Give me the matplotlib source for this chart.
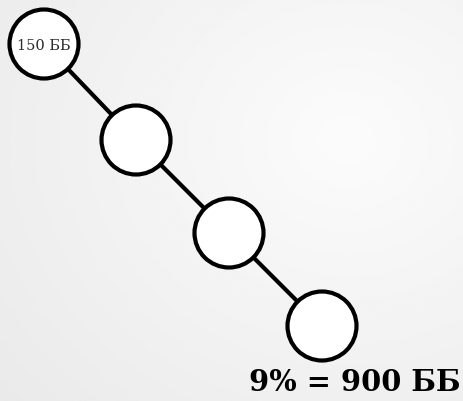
import matplotlib.pyplot as plt
import numpy as np
from matplotlib.patches import Circle

# node centres (pixel coords of the original picture) and labels
node_x = [44, 136, 229, 322]
node_y = [45, 141, 234, 327]
node_labels = ['150 ББ', '', '', '']
node_r = 34.5
result_label = '9% = 900 ББ'

fig = plt.figure(figsize=(4.64, 4.02), dpi=100)
ax = fig.add_axes([0, 0, 1, 1])
ax.set_xlim(0, 464)
ax.set_ylim(402, 0)
ax.axis('off')

# soft grey background gradient
gx, gy = np.meshgrid(np.linspace(0, 1, 200), np.linspace(0, 1, 200))
shade = 0.985 - 0.07 * np.sqrt(((gx - 0.75) ** 2) + ((gy - 0.35) ** 2))
ax.imshow(shade, cmap='gray', vmin=0, vmax=1, extent=[0, 464, 402, 0],
          aspect='auto', zorder=0)

# connecting line
ax.plot(node_x, node_y, color='black', lw=3, zorder=1, solid_capstyle='butt')

for x, y, lab in zip(node_x, node_y, node_labels):
    ax.add_patch(Circle((x, y), node_r, facecolor='white', edgecolor='black',
                        lw=3, zorder=2))
    if lab:
        ax.text(x, y + 1, lab, ha='center', va='center', fontsize=10.5,
                family='DejaVu Serif', color='#2a2a2a', zorder=3)

ax.text(461, 391, result_label, ha='right', va='baseline', fontsize=20.8,
        family='DejaVu Serif', fontweight='bold', color='black', zorder=3)

fig.savefig('out.png', dpi=100)
